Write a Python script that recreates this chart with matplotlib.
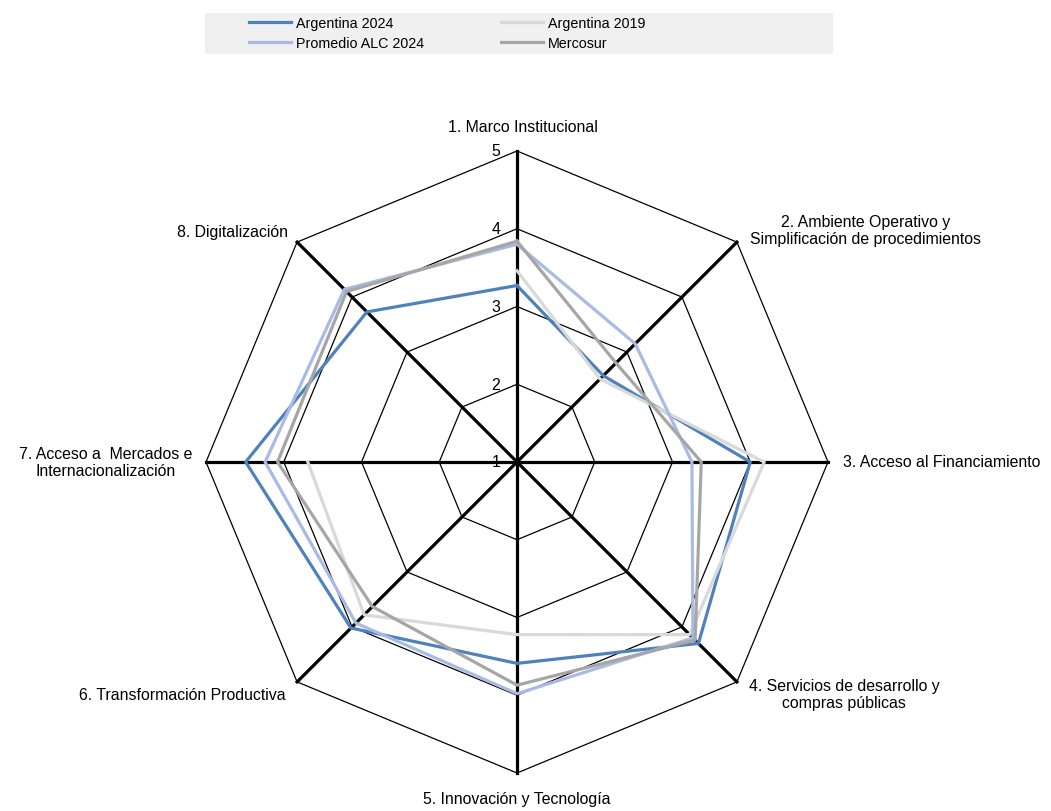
import matplotlib
matplotlib.use('Agg')
import numpy as np
import matplotlib.pyplot as plt
from matplotlib import font_manager
from matplotlib.patches import Rectangle

# dimensiones del indice (1 a 5)
categories = [
    '1. Marco Institucional',
    '2. Ambiente Operativo y\nSimplificación de procedimientos',
    '3. Acceso al Financiamiento',
    '4. Servicios de desarrollo y\ncompras públicas',
    '5. Innovación y Tecnología',
    '6. Transformación Productiva',
    '7. Acceso a  Mercados e\nInternacionalización',
    '8. Digitalización',
]
arg_2024 = [3.27, 2.57, 4.00, 4.30, 3.59, 4.02, 4.49, 3.73]
arg_2019 = [3.46, 2.51, 4.18, 4.14, 3.22, 3.78, 3.69, np.nan]
alc_2024 = [3.80, 3.15, 3.25, 4.20, 3.98, 3.93, 4.24, 4.14]
mercosur = [3.84, 2.80, 3.37, 4.24, 3.87, 3.63, 4.08, 4.10]
rings = [1, 2, 3, 4, 5]

# fuente angosta si existe
try:
    font_manager.findfont('Liberation Sans Narrow', fallback_to_default=False)
    fam = 'Liberation Sans Narrow'
    k = 1.0
except ValueError:
    fam = 'Liberation Sans'
    k = 0.82
plt.rcParams['font.family'] = [fam, 'DejaVu Sans']

fig = plt.figure(figsize=(10.51, 8.12), dpi=100)
ax = fig.add_axes([206/1051, 38/812, 622/1051, 622/812], projection='polar')
ax.set_theta_zero_location('N')
ax.set_theta_direction(-1)
ax.set_ylim(1, 5)
ax.set_axis_off()

n = len(categories)
theta = np.linspace(0, 2*np.pi, n, endpoint=False)
theta_c = np.append(theta, theta[0])

# anillos y ejes
for r in rings[1:]:
    ax.plot(theta_c, [r]*(n+1), color='black', lw=0.9, clip_on=False, zorder=1)
for t in theta:
    ax.plot([t, t], [1, 5], color='black', lw=2.3, clip_on=False, zorder=2)

def closed(v):
    return np.append(v, v[0])

l1, = ax.plot(theta_c, closed(arg_2024), color='#4F81BD', lw=2.3, clip_on=False, zorder=3)
l2, = ax.plot(theta_c, closed(arg_2019), color='#D9D9D9', lw=2.3, clip_on=False, zorder=3)
l3, = ax.plot(theta_c, closed(alc_2024), color='#A9BBE5', lw=2.3, clip_on=False, zorder=3)
l4, = ax.plot(theta_c, closed(mercosur), color='#A6A6A6', lw=2.3, clip_on=False, zorder=3)

fs = 14 * k
for r in rings:
    ax.annotate(str(r), xy=(0, r), xytext=(-12, 0), textcoords='offset points',
                ha='right', va='center', fontsize=fs)

# etiquetas de categorias
offs = [(4, 18, 'center'), (9.4, 8.6, 'left'), (10.8, 0, 'left'), (8.6, -8.6, 'left'),
        (0, -18.7, 'center'), (-7.9, -9.4, 'right'), (-10, 0, 'right'), (-6.5, 7.9, 'right')]
for t, lab, (dx, dy, ha) in zip(theta, categories, offs):
    ax.annotate(lab, xy=(t, 5), xytext=(dx, dy), textcoords='offset points',
                ha=ha, va='center', multialignment='center', fontsize=fs)

# leyenda
fig.patches.append(Rectangle((205/1051, 1-55/812), 628/1051, 41/812,
                             transform=fig.transFigure, facecolor='#F0F0F0',
                             edgecolor='none', zorder=0))
lfs = 12.5 * k
fig.legend(handles=[l1, l3, l2, l4],
           labels=['Argentina 2024', 'Promedio ALC 2024', 'Argentina 2019', 'Mercosur'],
           ncol=2, loc='upper left', bbox_to_anchor=(249/1051, 1-17/812),
           frameon=False, borderpad=0, borderaxespad=0, handlelength=2.95,
           handletextpad=0.35, columnspacing=5.4, labelspacing=0.4, fontsize=lfs)

fig.savefig('out.png', dpi=100)
